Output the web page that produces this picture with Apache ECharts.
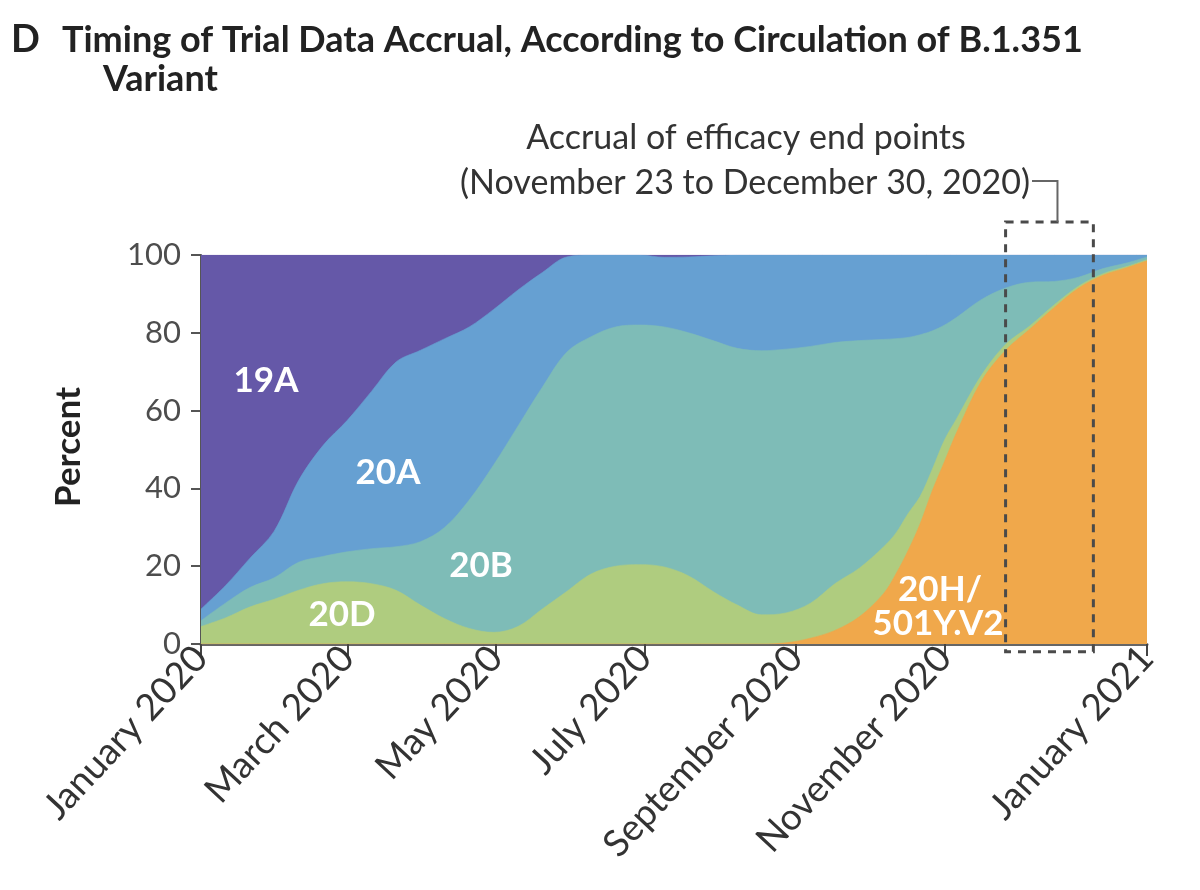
<!DOCTYPE html>
<html><head><meta charset="utf-8">
<script src="https://cdn.jsdelivr.net/npm/echarts@6/dist/echarts.min.js"></script>
<style>html,body{margin:0;padding:0;background:#fff}#c{width:1200px;height:890px}</style>
</head><body><div id="c"></div>
<script>
// Days since January 1, 2020
const days = [0,10,20,30,40,50,60,70,80,90,100,110,120,130,140,150,160,170,180,190,200,210,220,230,240,250,260,270,280,285,290,295,300,305,310,320,330,340,350,360,370,380,388];
// Percent of sequences per clade (bottom to top)
const v20H = [0,0,0,0,0,0,0,0,0,0,0,0,0,0,0,0,0,0,0,0,0,0,0,0,0.3,1.5,3.5,7,13,18,24,31,39.5,47,54.5,67.5,75.5,81,86.5,91.5,94.8,96.8,98.5];
const v20D = [4.5,6.7,9.5,11.5,13.8,15.5,16,15.5,13.8,10,6.5,4,3,4.5,9,13.5,18,20,20.4,19.8,17.5,13.5,10,7.5,7.7,9,12,12.5,12,10.5,9.5,7,5.5,5.5,3.5,1.5,1.5,0.8,0.7,0.5,0.4,0.3,0.3];
const v20B = [1.5,3.8,5,5.5,7.2,7,7.7,9,11.2,16.3,23.5,33,43,51.5,57,61.5,61,61.5,61.6,61.7,62.5,64.5,66,67.9,67.8,66,62,58.5,53.3,50,45.3,41.5,35.5,29.5,26,19.5,14.5,11.2,6,2.3,1.3,0.9,0.7];
const v20A = [3,4.5,7.5,12,21,28.5,33.8,40.5,47.5,49.2,48.5,44.5,40,35,29.5,24.5,21,18.5,18,17.9,19.5,21.8,24,24.6,24.2,23.5,22.5,22,21.7,21.5,21.2,20.5,19.5,18,16,11.5,8.5,7,6.8,5.7,3.5,2,0.5];
const v19A = [91,85,78,71,58,49,42.5,35,27.5,24.5,21.5,18.5,14,9,4.5,0.5,0,0,0,0.6,0.5,0.2,0,0,0,0,0,0,0,0,0,0,0,0,0,0,0,0,0,0,0,0,0];

const seriesNames = ['20H/501Y.V2','20D','20B','20A','19A'];
const seriesValues = [v20H, v20D, v20B, v20A, v19A];
const colors = ['#F0A84B','#AFCC7F','#7EBCB7','#66A0D2','#6558A8'];

const tickDays = [0,60,121,182,244,305,388];
const tickLabels = ['January 2020','March 2020','May 2020','July 2020','September 2020','November 2020','January 2021'];

const boxStartDay = 330; // accrual window, left edge of dashed box
const boxEndDay = 366;   // accrual window, right edge of dashed box

const F = 'Lato, "Noto Sans", sans-serif';
const chart = echarts.init(document.getElementById('c'), null, {renderer:'canvas'});

// cumulative (stacked) tops, each area filled to the axis; upper layers drawn first
const cumulative = [];
seriesValues.forEach((vals, i) => {
  cumulative.push(vals.map((v, k) => v + (i ? cumulative[i-1][k] : 0)));
});
const series = seriesNames.map((name, i) => ({
  name, type:'line', smooth:0.35, symbol:'none', z: 2 + (seriesNames.length - i),
  lineStyle:{width:0.6,color:colors[i]},
  areaStyle:{color:colors[i],opacity:1,origin:'start'},
  data: days.map((d, k) => [d, Math.min(100, cumulative[i][k])])
})).reverse();

chart.setOption({
  animation:false,
  grid:{left:201,right:53,top:255,bottom:246},
  xAxis:{type:'value',min:0,max:388,
    axisLine:{show:true,lineStyle:{color:'#666',width:3}},
    axisTick:{show:true,customValues:tickDays,length:12,lineStyle:{color:'#444',width:2}},
    axisLabel:{customValues:tickDays,formatter:(v)=>{const i=tickDays.indexOf(v);return i>=0?tickLabels[i]:'';},
      rotate:47,fontSize:37,color:'#333',fontFamily:F,margin:8,hideOverlap:false},
    splitLine:{show:false}},
  yAxis:{type:'value',min:0,max:100,interval:20,
    axisLine:{show:true,lineStyle:{color:'#555',width:2}},
    axisTick:{show:true,length:10,lineStyle:{color:'#555',width:2}},
    axisLabel:{fontSize:31,color:'#4d4d4d',fontFamily:F,margin:20},
    splitLine:{show:false}},
  series
});

const [xl, yb] = chart.convertToPixel({gridIndex:0}, [boxStartDay, -2]);
const [xr, yt] = chart.convertToPixel({gridIndex:0}, [boxEndDay, 108.5]);
const bx = (xl + xr) / 2 + 8;

const label = (text, x, y) => ({type:'text', x, y, z:50,
  style:{text, fill:'#fff', font:'bold 35px ' + F, align:'center', verticalAlign:'middle'}});

chart.setOption({graphic:[
  {type:'text', x:11, y:40, style:{text:'D', fill:'#222', font:'bold 38px ' + F, verticalAlign:'middle'}},
  {type:'text', x:62, y:40, style:{text:'Timing of Trial Data Accrual, According to Circulation of B.1.351', fill:'#222', font:'bold 36px ' + F, verticalAlign:'middle'}},
  {type:'text', x:103, y:79, style:{text:'Variant', fill:'#222', font:'bold 36px ' + F, verticalAlign:'middle'}},
  {type:'text', x:69, y:447, rotation:Math.PI/2, style:{text:'Percent', fill:'#222', font:'bold 35px ' + F, align:'center', verticalAlign:'middle'}},
  {type:'text', x:746, y:138, style:{text:'Accrual of efficacy end points', fill:'#333', font:'34px ' + F, align:'center', verticalAlign:'middle'}},
  {type:'text', x:745, y:183, style:{text:'(November 23 to December 30, 2020)', fill:'#333', font:'34px ' + F, align:'center', verticalAlign:'middle'}},
  {type:'rect', z:60, shape:{x:xl, y:yt, width:xr-xl, height:yb-yt}, style:{fill:null, stroke:'#4a4a4a', lineWidth:3, lineDash:[8,7]}},
  {type:'polyline', z:60, shape:{points:[[1032,181],[bx,181],[bx,yt]]}, style:{fill:null, stroke:'#666', lineWidth:2}},
  label('19A', 266, 381),
  label('20A', 388, 473),
  label('20B', 481, 566),
  label('20D', 342, 615),
  label('20H/', 940, 590),
  label('501Y.V2', 938, 624)
]});
</script></body></html>
